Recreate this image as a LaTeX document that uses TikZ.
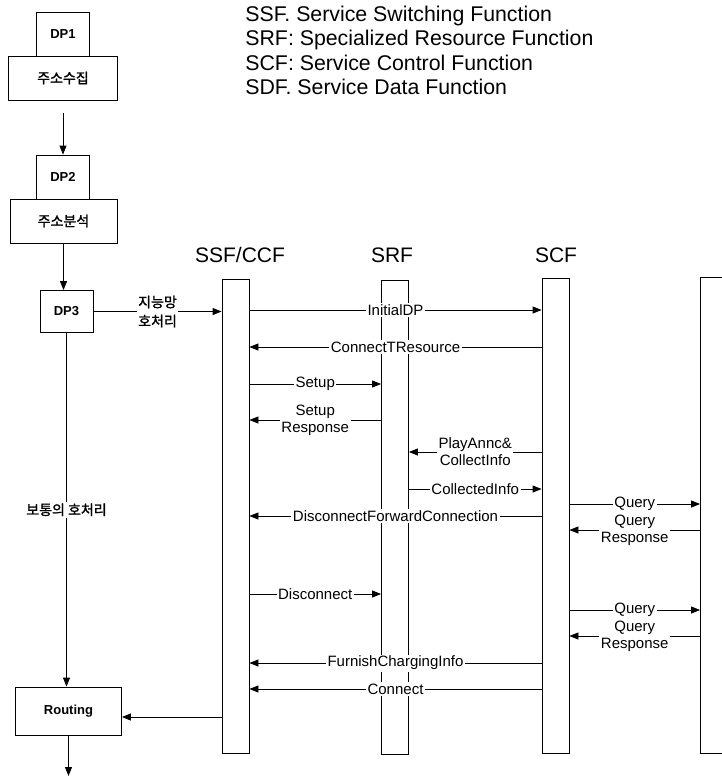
\documentclass[tikz,border=0pt]{standalone}
\usepackage{fontspec}
\setmainfont{Liberation Sans}
\newfontfamily\kr[AutoFakeBold=1.5]{Noto Sans CJK KR}
\usetikzlibrary{arrows.meta,positioning}

\begin{document}
\begin{tikzpicture}[x=1pt,y=-1pt,line width=0.8pt,
    dpbox/.style={draw,rectangle,inner sep=0pt,minimum width=53pt,minimum height=44pt,font=\bfseries\fontsize{13}{15}\selectfont},
    krbox/.style={draw,rectangle,inner sep=0pt,minimum height=44pt,font=\kr\bfseries\fontsize{14}{16}\selectfont},
    life/.style={draw,rectangle,anchor=north,inner sep=0pt,minimum width=27pt,minimum height=474pt},
    head/.style={font=\fontsize{21}{25}\selectfont},
    legend/.style={anchor=base west,inner sep=0pt,font=\fontsize{21.3}{25}\selectfont},
    msg/.style={-{Triangle[length=9pt,width=7pt]}},
    lbl/.style={fill=white,inner sep=1.5pt,align=center,font=\fontsize{15}{17}\selectfont},
    krlbl/.style={fill=white,inner sep=1.5pt,align=center,font=\kr\bfseries\fontsize{14}{19}\selectfont}]
    \clip (0, 0) rectangle (722, 777);
    % legend
    \node [legend] (leg1) at (245, 21) {SSF. Service Switching Function};%
    \node [legend] (leg2) at (245, 45.5) {SRF: Specialized Resource Function};%
    \node [legend] (leg3) at (245, 70) {SCF: Service Control Function};%
    \node [legend] (leg4) at (245, 94.5) {SDF. Service Data Function};%
    % detection points
    \node [dpbox] (dp1) at (63, 34) {DP1};%
    \node [krbox,minimum width=109pt] (addrcol) at (63, 78) {주소수집};%
    \node [dpbox] (dp2) at (63, 177) {DP2};%
    \node [krbox,minimum width=107pt] (addran) at (63.5, 221) {주소분석};%
    \node [dpbox,minimum height=42pt] (dp3) at (66.5, 311.5) {DP3};%
    \node [dpbox,minimum width=106pt,minimum height=48pt] (routing) at (68.5, 711) {Routing};%
    \coordinate (out) at (68.5, 776);
    % lifelines
    \node [head] (hssf) at (240, 255) {SSF/CCF};%
    \node [head] (hsrf) at (392, 255) {SRF};%
    \node [head] (hscf) at (556, 255) {SCF};%
    \node [life] (ssf) at (235.5, 279) {};%
    \node [life] (srf) at (395, 280) {};%
    \node [life,minimum height=475pt] (scf) at (555.5, 278) {};%
    \node [life,minimum height=476pt] (sdf) at (714, 277) {};%
    % left column
    \draw[msg] ([yshift=-13pt]addrcol.south) to (dp2.north);
    \draw[msg] (addran.south) to (addran.south |- dp3.north);
    \draw[msg] (dp3.east) to node [krlbl]{지능망\\호처리} (ssf.west |- dp3.east);
    \draw[msg] (dp3.south) to node [krlbl]{보통의 호처리} (dp3.south |- routing.north);
    \draw[msg] (routing.south) to (out);
    % messages
    \draw[msg] (ssf.east |- 0,310) to node [lbl]{InitialDP} (scf.west |- 0,310);
    \draw[msg] (scf.west |- 0,347) to node [lbl]{ConnectTResource} (ssf.east |- 0,347);
    \draw[msg] (ssf.east |- 0,384) to node [lbl]{Setup} (srf.west |- 0,384);
    \draw[msg] (srf.west |- 0,420) to node [lbl]{Setup\\Response} (ssf.east |- 0,420);
    \draw[msg] (scf.west |- 0,452) to node [lbl]{PlayAnnc\&\\CollectInfo} (srf.east |- 0,452);
    \draw[msg] (srf.east |- 0,489) to node [lbl]{CollectedInfo} (scf.west |- 0,489);
    \draw[msg] (scf.east |- 0,504) to node [lbl]{Query} (sdf.west |- 0,504);
    \draw[msg] (scf.west |- 0,516) to node [lbl]{DisconnectForwardConnection} (ssf.east |- 0,516);
    \draw[msg] (sdf.west |- 0,530) to node [lbl]{Query\\Response} (scf.east |- 0,530);
    \draw[msg] (ssf.east |- 0,594) to node [lbl]{Disconnect} (srf.west |- 0,594);
    \draw[msg] (scf.east |- 0,610) to node [lbl]{Query} (sdf.west |- 0,610);
    \draw[msg] (sdf.west |- 0,636) to node [lbl]{Query\\Response} (scf.east |- 0,636);
    \draw[msg] (scf.west |- 0,663) to node [lbl]{FurnishChargingInfo} (ssf.east |- 0,663);
    \draw[msg] (scf.west |- 0,689) to node [lbl]{Connect} (ssf.east |- 0,689);
    \draw[msg] (ssf.west |- 0,717) to (routing.east |- 0,717);
\end{tikzpicture}
\end{document}
